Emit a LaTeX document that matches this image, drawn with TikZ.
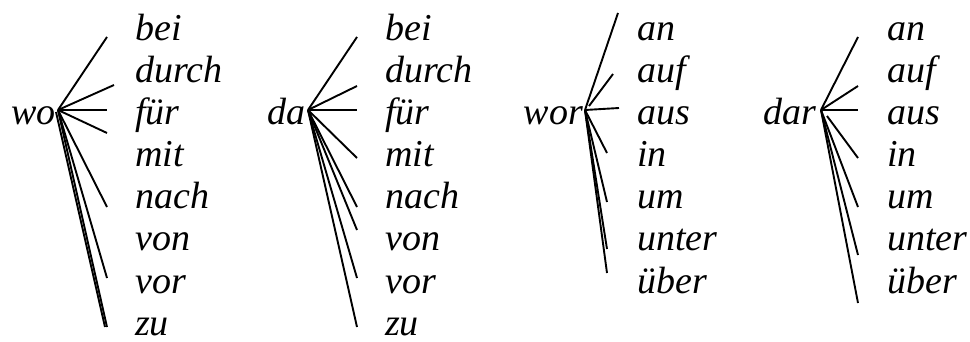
\documentclass[tikz,border=0pt]{standalone}
\usepackage{fontspec}
\setmainfont{Liberation Serif}
\begin{document}
\begin{tikzpicture}[x=1pt,y=-1pt,
  word/.style={font=\fontsize{38}{42}\selectfont\itshape, inner sep=0pt, anchor=base west},
  rootword/.style={word, anchor=base east},
  branch/.style={line width=1.9pt}]
\useasboundingbox (0,0) rectangle (970,342);
% ---------- group 1: wo ----------
\node[rootword] (wo) at (56,125) {wo};
\coordinate (r1) at (58,110);
\coordinate (r1b) at (56,112);
\foreach \w [count=\i from 0] in {bei,durch,für,mit,nach,von,vor,zu}
  \node[word] (a\i) at (135,{41+42*\i}) {\w};
\foreach \n/\x/\y in {0/107/37,1/114/85,2/107/110,3/107/133,4/107/207,5/107/278,6/107/327}
  {\coordinate (e1-\n) at (\x,\y); \draw[branch] (r1) -- (e1-\n);}
\coordinate (e1-7) at (105,327);
\draw[branch] (r1b) -- (e1-7);
% ---------- group 2: da ----------
\node[rootword] (da) at (306,125) {da};
\coordinate (r2) at (308,110);
\foreach \w [count=\i from 0] in {bei,durch,für,mit,nach,von,vor,zu}
  \node[word] (b\i) at (385,{41+42*\i}) {\w};
\foreach \n/\x/\y in {0/357/37,1/357/86,2/357/110,3/357/158,4/357/207,5/357/230,6/357/278,7/357/327}
  {\coordinate (e2-\n) at (\x,\y); \draw[branch] (r2) -- (e2-\n);}
% ---------- group 3: wor ----------
\node[rootword] (wor) at (583,125) {wor};
\coordinate (r3) at (585,110);
\coordinate (r3b) at (589,106);
\foreach \w [count=\i from 0] in {an,auf,aus,in,um,unter,über}
  \node[word] (c\i) at (637,{41+42*\i}) {\w};
\coordinate (e3-1) at (613,74);
\draw[branch] (r3b) -- (e3-1);
\foreach \n/\x/\y in {0/618/13,2/619/108,3/607/153,4/607/202,5/607/249,6/607/273}
  {\coordinate (e3-\n) at (\x,\y); \draw[branch] (r3) -- (e3-\n);}
% ---------- group 4: dar ----------
\node[rootword] (dar) at (816,125) {dar};
\coordinate (r4) at (821,110);
\coordinate (r4b) at (827,116);
\foreach \w [count=\i from 0] in {an,auf,aus,in,um,unter,über}
  \node[word] (d\i) at (887,{41+42*\i}) {\w};
\coordinate (e4-3) at (858,158);
\draw[branch] (r4b) -- (e4-3);
\foreach \n/\x/\y in {0/858/37,1/858/86,2/858/110,4/858/207,5/858/255,6/858/303}
  {\coordinate (e4-\n) at (\x,\y); \draw[branch] (r4) -- (e4-\n);}
\end{tikzpicture}
\end{document}
